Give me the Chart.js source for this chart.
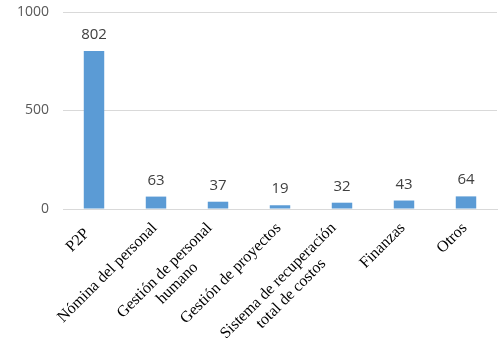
<!DOCTYPE html>
<html><head><meta charset="utf-8">
<script src="https://cdn.jsdelivr.net/npm/chart.js@4/dist/chart.umd.min.js"></script>
<style>html,body{margin:0;padding:0;background:#fff}#w{width:500px;height:338px}</style>
</head><body><div id="w"><canvas id="c"></canvas></div>
<script>
const categories = ["P2P  ", "Nómina del personal", ["Gestión de personal", "humano"], "Gestión de proyectos", ["Sistema de recuperación", "total de costos"], "Finanzas", "Otros"];
const values = [802, 63, 37, 19, 32, 43, 64];
const yTicks = [0, 500, 1000];

const valueLabels = {
  id: 'valueLabels',
  afterDatasetsDraw(chart) {
    const ctx = chart.ctx;
    const meta = chart.getDatasetMeta(0);
    ctx.save();
    ctx.font = '15px "Open Sans", "Liberation Sans", sans-serif';
    ctx.fillStyle = '#404040';
    ctx.textAlign = 'center';
    ctx.textBaseline = 'alphabetic';
    meta.data.forEach((bar, i) => {
      ctx.fillText(String(values[i]), bar.x, bar.y - 12);
    });
    ctx.restore();
  }
};

// Category labels drawn at the x scale's tick positions, rotated 45°, lines centred within the block
const xLabels = {
  id: 'xLabels',
  afterDraw(chart) {
    const ctx = chart.ctx;
    const xs = chart.scales.x;
    const lh = 18;
    ctx.save();
    ctx.font = '16px "Liberation Serif", "Times New Roman", serif';
    ctx.fillStyle = '#000';
    ctx.textBaseline = 'top';
    ctx.textAlign = 'center';
    categories.forEach((lab, i) => {
      const lines = Array.isArray(lab) ? lab : [lab];
      const W = Math.max(...lines.map(l => ctx.measureText(l).width));
      const ax = xs.getPixelForTick(i) - 7 - (lines.length - 1) * 7;
      const ay = xs.top + 11;
      ctx.save();
      ctx.translate(ax, ay);
      ctx.rotate(-Math.PI / 4);
      lines.forEach((l, k) => ctx.fillText(l, -W / 2, k * lh));
      ctx.restore();
    });
    ctx.restore();
  }
};

new Chart(document.getElementById('c'), {
  type: 'bar',
  data: { labels: categories, datasets: [{ data: values, backgroundColor: '#5b9bd5', barPercentage: 0.33, categoryPercentage: 1 }] },
  options: {
    responsive: true, maintainAspectRatio: false, animation: false,
    layout: { padding: { top: 12, right: 3, left: 0, bottom: 0 } },
    plugins: { legend: { display: false }, tooltip: { enabled: false } },
    scales: {
      y: {
        min: 0, max: 1000,
        afterBuildTicks(s) { s.ticks = yTicks.map(v => ({ value: v })); },
        afterFit(s) { s.width = 63; s.paddingTop = 0; s.paddingBottom = 0; },
        grid: { color: '#d9d9d9', lineWidth: 1, drawTicks: false },
        border: { display: false },
        ticks: { color: '#595959', padding: 14, callback: v => String(v), font: { size: 14, family: '"Open Sans", "Liberation Sans", sans-serif' } }
      },
      x: {
        afterFit(s) { s.height = 129; s.paddingLeft = 0; s.paddingRight = 0; },
        grid: { display: false, drawTicks: false },
        border: { display: true, color: '#d9d9d9', width: 1 },
        ticks: { display: false }
      }
    }
  },
  plugins: [valueLabels, xLabels]
});
</script></body></html>
